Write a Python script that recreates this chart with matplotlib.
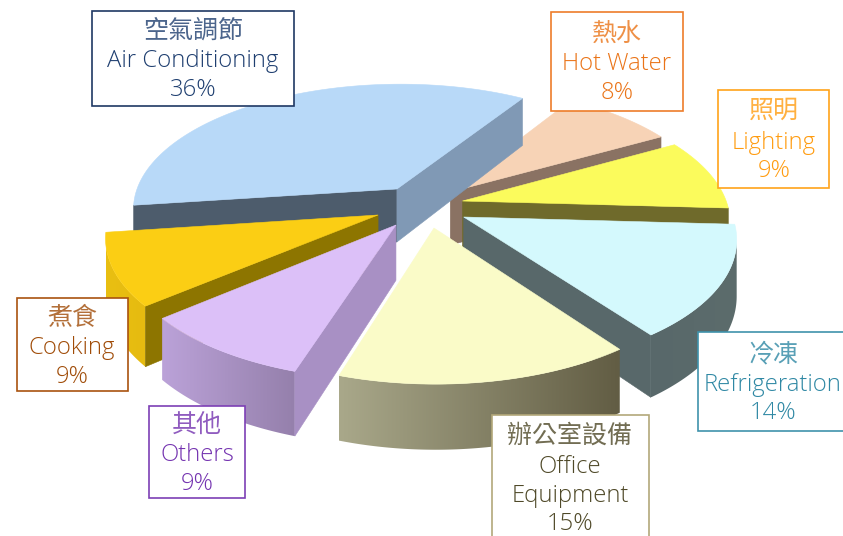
import numpy as np
import matplotlib
matplotlib.use("Agg")
import matplotlib.pyplot as plt
from matplotlib.colors import to_rgb
from matplotlib.patches import Polygon, Rectangle

# ---- chart data ----
names_zh = ["空氣調節", "熱水", "照明", "冷凍", "辦公室設備", "其他", "煮食"]
names_en = [["Air Conditioning"], ["Hot Water"], ["Lighting"], ["Refrigeration"],
            ["Office", "Equipment"], ["Others"], ["Cooking"]]
shares = [36, 8, 9, 14, 15, 9, 9]

# ---- slice styling ----
explode = [(-.108, .1305), (.097, .1056), (.142, .032), (.144, -.0947),
           (.033, -.1795), (-.107, -.1563), (-.175, -.079)]
top_col = ["#b8d9f8", "#f7d3b6", "#fbfb5c", "#d4f9fd", "#fafbc8", "#dcc0f8", "#fbce14"]
wall_col = ["#4d5c6c", "#8a7263", "#6f6a2b", "#58686a", "#6b6650", "#a890c4", "#8d7500"]
wall2_col = ["#8099b5", "#8a7263", "#6f6a2b", "#58686a", "#6b6650", "#a890c4", "#8d7500"]
rim_col = [("#4d5c6c", "#4d5c6c"), ("#8a7263", "#8a7263"), ("#6f6a2b", "#6f6a2b"),
           ("#58686a", "#5c6c6c"), ("#a9a88a", "#625d44"), ("#bba2d8", "#9580ac"),
           ("#e9bf12", "#e6bb10")]
paint_order = [1, 0, 2, 3, 6, 5, 4]

# ---- label styling ----
box_rect = [(92, 11, 294, 106), (551, 12, 683, 111), (718, 90, 829, 188),
            (698, 332, 850, 431), (492, 415, 649, 545), (149, 406, 245, 498), (17, 298, 128, 391)]
box_edge = ["#1f3864", "#ee7d2a", "#ffa31a", "#3f92ab", "#b3a87a", "#7d3fb5", "#a9530f"]
text_col = ["#1f3f70", "#ea7418", "#ff9c10", "#2f88a4", "#4f4928", "#7433b0", "#a04c08"]
line_y = [(31, 61, 90), (34, 64, 93), (111, 143, 171), (354, 385, 413),
          (436, 467, 496, 524), (425, 455, 484), (318, 348, 377)]
text_x = [193, 617, 774, 773, 570, 197, 72]

# ---- projection of the pie plane on to the page ----
CX, CY, AX_X, AX_Y, PERSP, DEPTH = 425, 205, 265, 125, .15, 54
START_DEG = 187.6


def project(x, y, z=0.0):
    s = 1 / (1 + PERSP * y)
    return CX + AX_X * x * s, CY - AX_Y * y * s + DEPTH * z * s


fig = plt.figure(figsize=(8.43, 5.36), dpi=100)
ax = fig.add_axes([0, 0, 1, 1])
ax.set_xlim(0, 843)
ax.set_ylim(536, 0)
ax.axis("off")

edges = START_DEG - np.cumsum([0] + shares) * 3.6


def wall(p, q, col, z):
    quad = [project(*p), project(*q), project(*q, 1), project(*p, 1)]
    ax.add_patch(Polygon(quad, closed=True, fc=col, ec=col, lw=.4, zorder=z))


for rank, i in enumerate(paint_order):
    z = 2 + rank
    ex, ey = explode[i]
    theta = np.radians(np.linspace(edges[i], edges[i + 1], 90))
    rx, ry = ex + np.cos(theta), ey + np.sin(theta)
    sx, sy = project(rx, ry)
    bx, by = project(rx, ry, 1)

    # outer rim: a left-to-right shaded image clipped to the part facing the viewer
    facing = np.flatnonzero(np.diff(sx) < 0)
    if facing.size:
        idx = np.arange(facing[0], facing[-1] + 2)
        outline = list(zip(sx[idx], sy[idx])) + list(zip(bx[idx][::-1], by[idx][::-1]))
        clip = Polygon(outline, closed=True, transform=ax.transData, fc="none", ec="none")
        x0, x1 = sx[idx].min(), sx[idx].max()
        y0, y1 = sy[idx].min(), by[idx].max()
        c0, c1 = map(np.array, map(to_rgb, rim_col[i]))
        ramp = np.linspace(c0, c1, 128)[None, :, :]
        im = ax.imshow(ramp, extent=[x0, x1, y1, y0], aspect="auto", zorder=z,
                       interpolation="bilinear")
        ax.add_patch(clip)
        im.set_clip_path(clip)

    # radial walls that face the viewer
    apex = project(ex, ey)
    if sx[0] < apex[0]:
        wall((ex, ey), (rx[0], ry[0]), wall_col[i], z + .1)
    if apex[0] < sx[-1]:
        wall((rx[-1], ry[-1]), (ex, ey), wall2_col[i], z + .1)

    # top face
    pts = [apex] + list(zip(sx, sy))
    ax.add_patch(Polygon(pts, closed=True, fc=top_col[i], ec=top_col[i], lw=.4, zorder=z + .2))

ax.set_xlim(0, 843)
ax.set_ylim(536, 0)

fonts = ["Open Sans", "DejaVu Sans"]
for i in range(len(shares)):
    x0, y0, x1, y1 = box_rect[i]
    ax.add_patch(Rectangle((x0, y0), x1 - x0, y1 - y0, fc="white", ec=box_edge[i],
                           lw=1.2, zorder=20))
    ax.text(text_x[i], line_y[i][0], names_zh[i], color=text_col[i], ha="center", va="center",
            fontsize=18, family="Noto Sans CJK TC", fontweight="normal", alpha=.8, zorder=21)
    lines = names_en[i] + [f"{shares[i]}%"]
    for text, y in zip(lines, line_y[i][1:]):
        ax.text(text_x[i], y, text, color=text_col[i], ha="center", va="center",
                fontsize=17.2, family=fonts, fontweight="light", zorder=21)

fig.savefig("out.png", dpi=100, facecolor="white")
